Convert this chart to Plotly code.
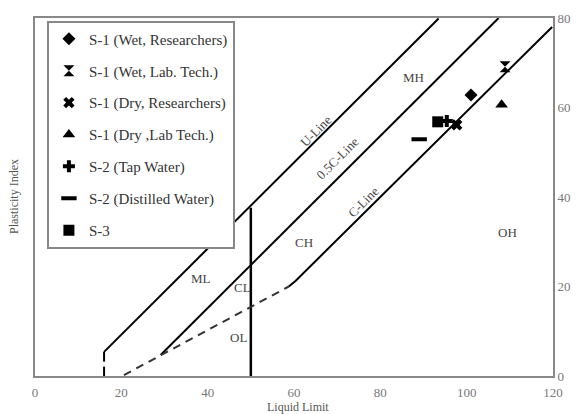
import plotly.graph_objects as go

# ---- data ----
# boundary lines (Liquid Limit, Plasticity Index)
u_line_ll = [16, 93.5]
u_line_pi = [5.4, 79.9]
half_c_ll = [29.1, 107.4]
half_c_pi = [4.7, 80.0]
c_line_ll = [58.8, 60.4, 119.8]
c_line_pi = [20.0, 21.3, 78.0]
dash_ll = [20.6, 58.8]
dash_pi = [0.2, 20.0]
ll50_ll = [50, 50]
ll50_pi = [0, 37.6]
ll16_ll = [16, 16, None, 16, 16]
ll16_pi = [0, 2.1, None, 3.2, 5.4]

# samples
series_names = ["S-1 (Wet, Researchers)", "S-1 (Wet, Lab. Tech.)", "S-1 (Dry, Researchers)",
                "S-1 (Dry ,Lab Tech.)", "S-2 (Tap Water)", "S-2 (Distilled Water)", "S-3"]
series_ll = [101.0, 108.9, 97.7, 108.1, 95.4, 89.0, 93.3]
series_pi = [62.8, 69.1, 56.1, 60.6, 57.0, 52.9, 56.8]
series_symbols = ["diamond", "hourglass", "x", "triangle-up", "cross", "line-ew", "square"]
series_sizes = [10, 11, 10, 11, 10, 11, 11]

# region / line labels
label_text = ["U-Line", "0.5C-Line", "C-Line", "MH", "CH", "ML", "CL", "OL", "OH"]
label_ll = [65.2, 70.0, 76.2, 87.6, 62.2, 38.4, 48.1, 47.2, 109.4]
label_pi = [54.8, 48.6, 38.9, 66.8, 29.9, 21.9, 19.7, 8.5, 32.0]
label_angle = [-45, -45, -45, 0, 0, 0, 0, 0, 0]

x_ticks = [0, 20, 40, 60, 80, 100, 120]
y_ticks = [0, 20, 40, 60, 80]

FONT = "Liberation Serif"

fig = go.Figure()

line_style = dict(color="black", width=2)
for xs, ys in [(u_line_ll, u_line_pi), (half_c_ll, half_c_pi), (c_line_ll, c_line_pi),
               (ll16_ll, ll16_pi)]:
    fig.add_trace(go.Scatter(x=xs, y=ys, mode="lines", line=line_style,
                             showlegend=False, hoverinfo="skip"))
fig.add_trace(go.Scatter(x=ll50_ll, y=ll50_pi, mode="lines", line=dict(color="black", width=2.5),
                         showlegend=False, hoverinfo="skip"))
fig.add_trace(go.Scatter(x=dash_ll, y=dash_pi, mode="lines",
                         line=dict(color="#333333", width=2, dash="8px,6px"),
                         showlegend=False, hoverinfo="skip"))

for i, name in enumerate(series_names):
    sym = series_symbols[i]
    marker = dict(symbol=sym, size=series_sizes[i], color="black")
    if sym == "line-ew":
        marker["line"] = dict(color="black", width=4)
    fig.add_trace(go.Scatter(x=[series_ll[i]], y=[series_pi[i]], mode="markers",
                             name=name, marker=marker, legendgroup="g%d" % i))

for t, x, y, a in zip(label_text, label_ll, label_pi, label_angle):
    fig.add_annotation(x=x, y=y, text=t, showarrow=False, textangle=a,
                       font=dict(family=FONT, size=13, color="#444444"))

fig.add_annotation(x=61, y=0, xref="x", yref="paper", yanchor="top", yshift=-22,
                   text="Liquid Limit", showarrow=False,
                   font=dict(family=FONT, size=12, color="#555555"))
fig.add_annotation(x=0, y=0.5, xref="paper", yref="paper", xanchor="right", xshift=-12,
                   text="Plasticity Index", showarrow=False, textangle=-90,
                   font=dict(family=FONT, size=12, color="#555555"))

# the page body adds an 8px offset, so the figure is 8px smaller in each direction
fig.update_layout(
    width=574, height=406,
    margin=dict(l=27, r=29, t=10, b=38, autoexpand=False),
    paper_bgcolor="white", plot_bgcolor="white",
    font=dict(family=FONT, size=12, color="#666666"),
    showlegend=True,
    legend=dict(x=0.023, y=0.993, xanchor="left", yanchor="top",
                bgcolor="white", bordercolor="#888888", borderwidth=2,
                font=dict(family=FONT, size=15, color="#333333"),
                tracegroupgap=9.4, itemwidth=30),
    xaxis=dict(range=[0, 120], tickvals=x_ticks, showgrid=False, zeroline=False,
               showline=True, linecolor="#888888", linewidth=2, mirror=True, automargin=False,
               ticks="", ticklabelstandoff=3,
               tickfont=dict(family=FONT, size=13, color="#777777")),
    yaxis=dict(range=[0, 80], tickvals=y_ticks, side="right", showgrid=False, zeroline=False,
               showline=True, linecolor="#888888", linewidth=2, mirror=True, automargin=False,
               ticks="", tickfont=dict(family=FONT, size=13, color="#777777")),
)

fig.write_html("out.html")
